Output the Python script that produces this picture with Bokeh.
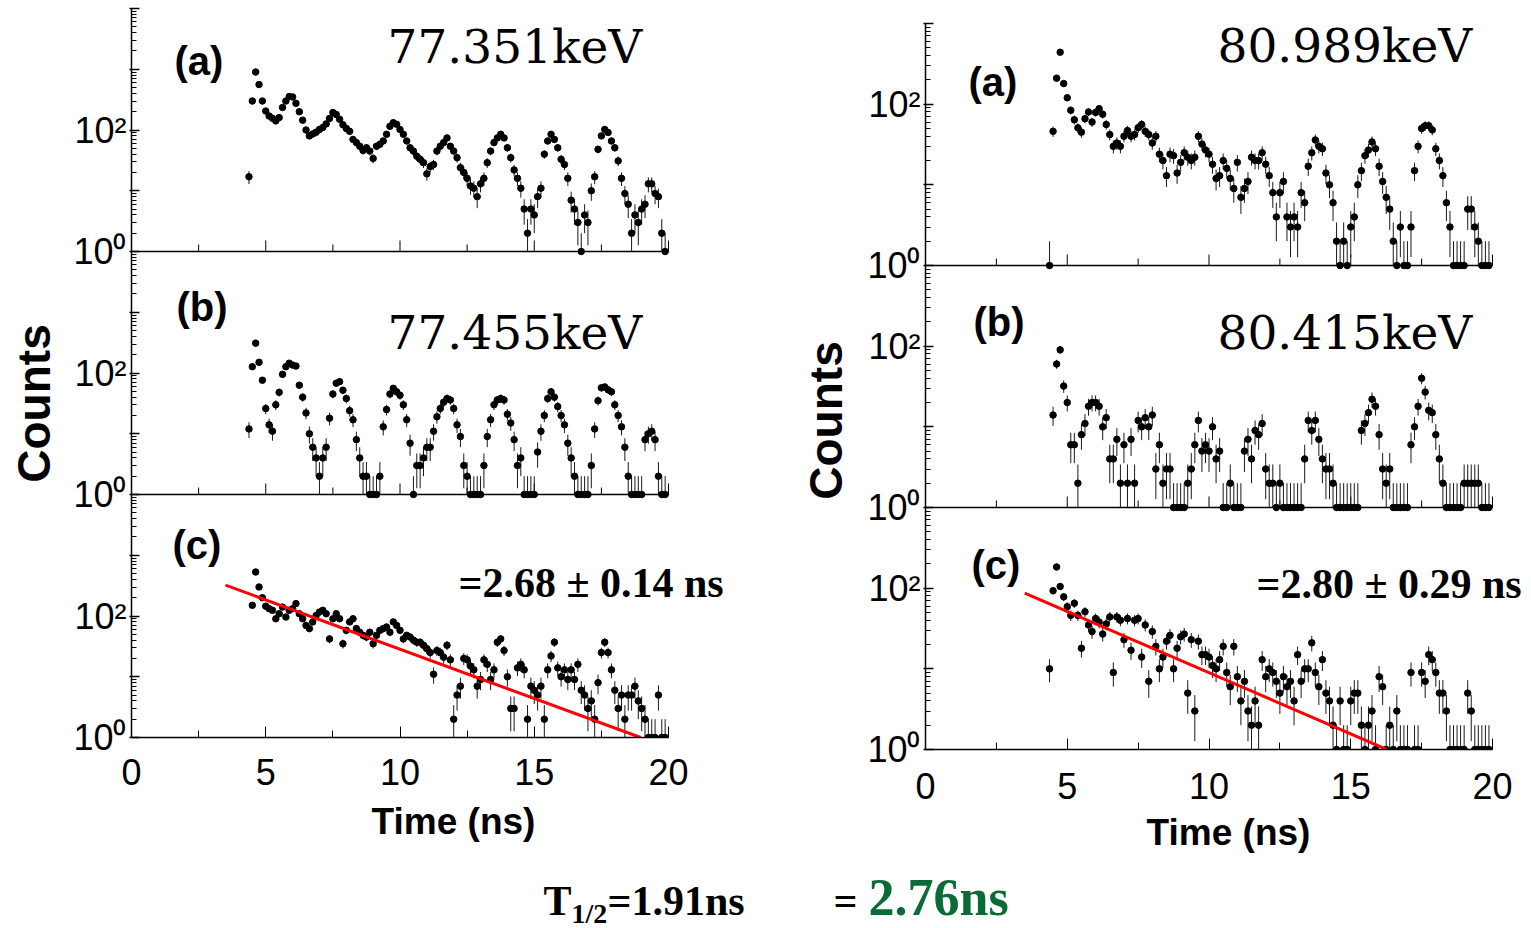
import numpy as np
from bokeh.plotting import figure
from bokeh.layouts import row, column
from bokeh.models import Range1d, LogScale, FixedTicker, Label, ColumnDataSource
from bokeh.embed import file_html
from bokeh.resources import INLINE

BIN_NS = 0.125  # time bin width (ns)

# ---- left column: 77.351 keV / 77.455 keV ----
L_A_START = 4.375
L_A_COUNTS = [17, 300, 900, 560, 300,
              205, 170, 156, 141, 160, 235, 300, 355, 350, 275, 200, 145, 100, 80, 86, 92,
              102, 110, 126, 155, 194, 180, 150, 122, 106, 95, 70, 62, 54, 46, 51, 45,
              34, 54, 58, 66, 85, 115, 132, 124, 102, 85, 66, 51, 45, 37, 33, 29,
              19, 25, 27, 45, 54, 62, 74, 54, 45, 35, 24, 20, 16, 12, 11, 8,
              13, 16, 29, 45, 62, 74, 85, 74, 51, 35, 22, 16, 11, 5, 2, 5,
              4, 8, 11, 40, 66, 85, 70, 51, 33, 27, 16, 7, 5, 3, 1, 4,
              3, 10, 17, 48, 80, 102, 91, 66, 51, 31, 16, 9, 6, 2, 4, 3,
              5, 6, 13, 13, 9, 8, 2, 1]
L_B_START = 4.375
L_B_COUNTS = [12, 127, 310, 150, 76,
              26, 14, 11, 30, 48, 95, 127, 145, 135, 130, 63, 40, 22, 10, 6, 4,
              2, 4, 6, 18, 45, 68, 72, 52, 38, 24, 17, 8, 4, 2, 2, 1,
              1, 1, 2, 13, 25, 45, 56, 49, 43, 30, 17, 7, 1, 3, 3, 4,
              6, 6, 11, 19, 26, 33, 38, 36, 26, 14, 9, 3, 2, 1, 1, 1,
              1, 3, 9, 17, 30, 36, 38, 36, 21, 15, 8, 3, 4, 1, 1, 1,
              1, 5, 11, 20, 38, 49, 40, 28, 20, 14, 7, 4, 2, 1, 1, 1,
              1, 3, 12, 35, 57, 59, 53, 49, 30, 20, 13, 6, 2, 1, 1, 1,
              1, 8, 10, 11, 8, 2, 1, 1]
L_C_START = 4.5
L_C_COUNTS = [150, 530, 300, 200,
              145, 132, 124, 90, 109, 140, 96, 124, 132, 160, 109, 90, 70, 62, 80, 102,
              116, 124, 109, 42, 90, 109, 90, 35, 58, 80, 90, 62, 54, 48, 45, 54,
              35, 48, 58, 62, 66, 54, 80, 70, 58, 42, 48, 45, 40, 37, 37, 33,
              29, 25, 11, 27, 25, 21, 33, 19, 2, 5, 7, 20, 19, 15, 13, 7,
              9, 19, 16, 9, 13, 37, 42, 27, 10, 3, 3, 14, 16, 13, 2, 7,
              6, 5, 7, 2, 13, 22, 37, 14, 10, 13, 9, 13, 9, 16, 6, 5,
              3, 4, 2, 8, 25, 37, 25, 13, 6, 3, 5, 2, 5, 5, 7, 4,
              3, 2, 1, 1, 1, 5, 1, 1]
L_FIT_T = [3.5, 18.96]
L_FIT_COUNTS = [323, 1]

# ---- right column: 80.989 keV / 80.415 keV ----
R_A_START = 4.375
R_A_COUNTS = [1, 46, 210, 440, 180,
              120, 84, 64, 51, 45, 66, 80, 60, 79, 88, 75, 56, 42, 30, 33, 30,
              40, 47, 40, 42, 51, 56, 46, 42, 33, 40, 24, 20, 13, 24, 23, 14,
              19, 25, 22, 20, 22, 40, 32, 27, 24, 18, 12, 13, 20, 16, 12, 9,
              19, 7, 9, 11, 22, 20, 20, 25, 18, 13, 8, 4, 8, 11, 4, 3,
              4, 3, 8, 6, 17, 25, 36, 30, 28, 14, 10, 6, 2, 1, 2, 1,
              3, 4, 10, 15, 23, 27, 34, 28, 17, 11, 7, 5, 2, 1, 3, 1,
              1, 3, 15, 30, 50, 54, 54, 48, 28, 20, 13, 6, 3, 1, 1, 1,
              1, 5, 5, 3, 2, 1, 1, 1]
R_B_START = 4.5
R_B_COUNTS = [14, 60, 90, 32,
              20, 6, 6, 2, 8, 11, 18, 20, 20, 18, 10, 13, 4, 4, 7, 2,
              6, 2, 7, 2, 12, 10, 13, 10, 14, 3, 6, 2, 3, 3, 1, 1,
              1, 1, 2, 3, 6, 12, 5, 6, 5, 10, 4, 5, 1, 1, 2, 1,
              1, 1, 5, 7, 4, 9, 8, 11, 3, 2, 2, 1, 2, 1, 1, 1,
              1, 1, 1, 4, 12, 9, 12, 7, 4, 3, 3, 2, 1, 1, 1, 1,
              1, 1, 1, 9, 11, 15, 22, 18, 8, 3, 2, 3, 1, 1, 1, 1,
              1, 6, 10, 18, 40, 27, 16, 15, 8, 4, 2, 1, 1, 1, 1, 1,
              2, 2, 2, 2, 2, 1, 1, 1]
R_C_START = 4.375
R_C_COUNTS = [10, 93, 183, 105, 78,
              59, 46, 65, 46, 18, 51, 35, 29, 42, 38, 27, 36, 44, 9, 44, 40,
              23, 42, 17, 40, 42, 14, 35, 7, 29, 19, 10, 14, 22, 26, 10, 18,
              25, 27, 5, 23, 3, 22, 15, 15, 14, 11, 10, 13, 19, 9, 6, 19,
              8, 4, 7, 3, 2, 4, 2, 13, 8, 10, 9, 7, 5, 8, 6, 7,
              4, 15, 7, 10, 10, 21, 9, 6, 13, 5, 4, 2, 1, 4, 1, 1,
              4, 5, 5, 2, 1, 2, 3, 1, 8, 6, 1, 2, 1, 3, 1, 1,
              1, 9, 1, 1, 9, 7, 15, 13, 9, 5, 5, 3, 1, 1, 1, 1,
              1, 5, 3, 1, 1, 1, 1, 1]
R_FIT_T = [3.5, 16.27]
R_FIT_COUNTS = [87, 1]

X_TICKS = [0, 5, 10, 15, 20]
X_MINOR = [2.5, 7.5, 12.5, 17.5]

SANS = "Liberation Sans"
SERIF = "Liberation Serif"
KEV = "DejaVu Serif"

ROW_H = 865


def build(x_page0, width, frame_left_page, px_per_ns, y1_page, top_page, n_dec,
          tick_standoff, label_standoff):
    """One column of three stacked log panels sharing one frame."""
    total = 3 * n_dec
    left = frame_left_page - x_page0
    fw = width - left
    dec = (y1_page - top_page) / total
    p = figure(width=width, height=ROW_H,
               x_range=Range1d(0, fw / px_per_ns),
               y_range=Range1d(1, 10.0 ** total), y_axis_type="log",
               output_backend="svg", toolbar_location=None,
               min_border_left=left, min_border_right=0,
               min_border_top=top_page, min_border_bottom=ROW_H - y1_page)
    p.extra_y_ranges = {"b": Range1d(10.0 ** (-n_dec), 10.0 ** (2 * n_dec)),
                        "a": Range1d(10.0 ** (-2 * n_dec), 10.0 ** n_dec)}
    p.extra_y_scales = {"a": LogScale(), "b": LogScale()}
    p.xgrid.visible = False
    p.ygrid.visible = False
    p.outline_line_color = None
    p.background_fill_color = "white"
    p.border_fill_color = "white"

    ya = p.yaxis[0]
    majors = [10.0 ** k for k in range(total + 1)]
    minors = [m * 10.0 ** k for k in range(total) for m in range(2, 10)]
    ya.ticker = FixedTicker(ticks=majors, minor_ticks=minors)
    ov = {}
    for k, v in enumerate(majors):
        e = k % n_dec
        if e == 0 and k < total:
            ov[v] = "10\u2070"
        elif e == 2:
            ov[v] = "10\u00b2"
        else:
            ov[v] = ""
    ya.major_label_overrides = ov
    ya.major_label_text_font = SANS
    ya.major_label_text_font_size = "36px"
    ya.major_label_text_color = "black"
    ya.major_label_standoff = 3
    ya.major_tick_in = 8
    ya.major_tick_out = 2
    ya.minor_tick_in = 5
    ya.minor_tick_out = 0
    ya.axis_line_width = 1.5
    ya.major_tick_line_width = 1.5

    xa = p.xaxis[0]
    xa.bounds = (0, 20)
    xa.ticker = FixedTicker(ticks=X_TICKS, minor_ticks=X_MINOR)
    xa.major_tick_in = 11
    xa.major_tick_out = 0
    xa.minor_tick_in = 7
    xa.minor_tick_out = 0
    xa.axis_line_width = 1.5
    xa.major_label_text_font = SANS
    xa.major_label_text_font_size = "36px"
    xa.major_label_text_color = "black"
    xa.major_label_standoff = tick_standoff
    xa.axis_label = "Time (ns)"
    xa.axis_label_text_font = SANS
    xa.axis_label_text_font_style = "bold"
    xa.axis_label_text_font_size = "37px"
    xa.axis_label_text_color = "black"
    xa.axis_label_standoff = label_standoff

    for name in ("a", "b"):
        p.segment(x0=[0], y0=[1], x1=[20], y1=[1], y_range_name=name,
                  line_color="black", line_width=1.5)
        p.segment(x0=X_TICKS, y0=[1] * 5, x1=X_TICKS, y1=[10 ** (11 / dec)] * 5,
                  y_range_name=name, line_color="black", line_width=1)
        p.segment(x0=X_MINOR, y0=[1] * 4, x1=X_MINOR, y1=[10 ** (7 / dec)] * 4,
                  y_range_name=name, line_color="black", line_width=1)
    geo = dict(fl=frame_left_page, ppn=px_per_ns, y1=y1_page, dec=dec)
    return p, geo


def draw(p, start, counts, rname):
    n = np.array(counts, dtype=float)
    t = start + BIN_NS * np.arange(len(n))
    s = np.sqrt(n)
    src = ColumnDataSource(dict(t=t, n=n, lo=np.maximum(n - s, 1.0), hi=n + s))
    p.segment("t", "lo", "t", "hi", source=src, line_color="#1a1a1a",
              line_width=1, y_range_name=rname)
    p.scatter("t", "n", source=src, size=6.5, color="black", y_range_name=rname)


def label(p, geo, px, py, text, font, size, style="normal", align="left",
          color="black", angle=0.0):
    if geo is None:
        x, y = px, py
    else:
        x = (px - geo["fl"]) / geo["ppn"]
        y = 10 ** ((geo["y1"] - py) / geo["dec"])
    p.add_layout(Label(x=x, y=y, text=text, text_font=font, text_font_size=size,
                       text_font_style=style, text_align=align,
                       text_baseline="middle", text_color=color, angle=angle))


def text_fig(x0, width, y0, height, mb_top, mb_bot):
    """Text-only strip; data coordinates equal page pixels."""
    f = figure(width=width, height=height, x_range=Range1d(x0, x0 + width),
               y_range=Range1d(y0 + height - mb_bot, y0 + mb_top),
               output_backend="svg", toolbar_location=None,
               x_axis_location=None, y_axis_location=None,
               min_border_left=0, min_border_right=0,
               min_border_top=mb_top, min_border_bottom=mb_bot)
    f.xgrid.visible = False
    f.ygrid.visible = False
    f.outline_line_color = None
    f.border_fill_color = "white"
    return f


# ---- left column ----
pl, gl = build(60, 715, 131, 537 / 20, 737, 8, 4, 21, 13)
draw(pl, L_A_START, L_A_COUNTS, "a")
draw(pl, L_B_START, L_B_COUNTS, "b")
draw(pl, L_C_START, L_C_COUNTS, "default")
pl.line(L_FIT_T, L_FIT_COUNTS, line_color="red", line_width=3)

label(pl, gl, 174, 60, "(a)", SANS, "40px", "bold")
label(pl, gl, 387, 46, "77.351keV", KEV, "47px")
label(pl, gl, 176, 306, "(b)", SANS, "40px", "bold")
label(pl, gl, 387, 332, "77.455keV", KEV, "47px")
label(pl, gl, 172, 544, "(c)", SANS, "40px", "bold")
label(pl, gl, 458, 582, "=2.68 \u00b1 0.14 ns", SERIF, "42px", "bold")

# ---- right column ----
pr, gr = build(860, 671, 925, 567 / 20, 749, 23, 3, 23, 10)
draw(pr, R_A_START, R_A_COUNTS, "a")
draw(pr, R_B_START, R_B_COUNTS, "b")
draw(pr, R_C_START, R_C_COUNTS, "default")
pr.line(R_FIT_T, R_FIT_COUNTS, line_color="red", line_width=3)

label(pr, gr, 968, 81, "(a)", SANS, "40px", "bold")
label(pr, gr, 1217, 45, "80.989keV", KEV, "47px")
label(pr, gr, 973, 321, "(b)", SANS, "40px", "bold")
label(pr, gr, 1217, 332, "80.415keV", KEV, "47px")
label(pr, gr, 971, 564, "(c)", SANS, "40px", "bold")
label(pr, gr, 1256, 583, "=2.80 \u00b1 0.29 ns", SERIF, "42px", "bold")

# ---- "Counts" strips ----
cl = text_fig(0, 60, 0, ROW_H, 8, ROW_H - 737)
label(cl, None, 33, 403, "Counts", SANS, "46px", "bold", align="center", angle=np.pi / 2)
cr = text_fig(775, 85, 0, ROW_H, 23, ROW_H - 749)
label(cr, None, 825, 420, "Counts", SANS, "46px", "bold", align="center", angle=np.pi / 2)

# ---- bottom line of text ----
BOT_H = 928 - ROW_H
bt = text_fig(0, 1531, ROW_H, BOT_H, 0, 0)
label(bt, None, 543, 900, "T", SERIF, "42px", "bold")
label(bt, None, 571, 913, "1/2", SERIF, "28px", "bold")
label(bt, None, 607, 900, "=1.91ns", SERIF, "42px", "bold")
label(bt, None, 833, 900, "=", SERIF, "42px", "bold")
label(bt, None, 868, 897, "2.76ns", SERIF, "52px", "bold", color="#0b6b36")

left_block = row(cl, pl, spacing=0)
right_block = row(cr, pr, spacing=0)
layout = column(row(left_block, right_block, spacing=0), bt, spacing=0)
open("out.html", "w").write(file_html(layout, INLINE))
